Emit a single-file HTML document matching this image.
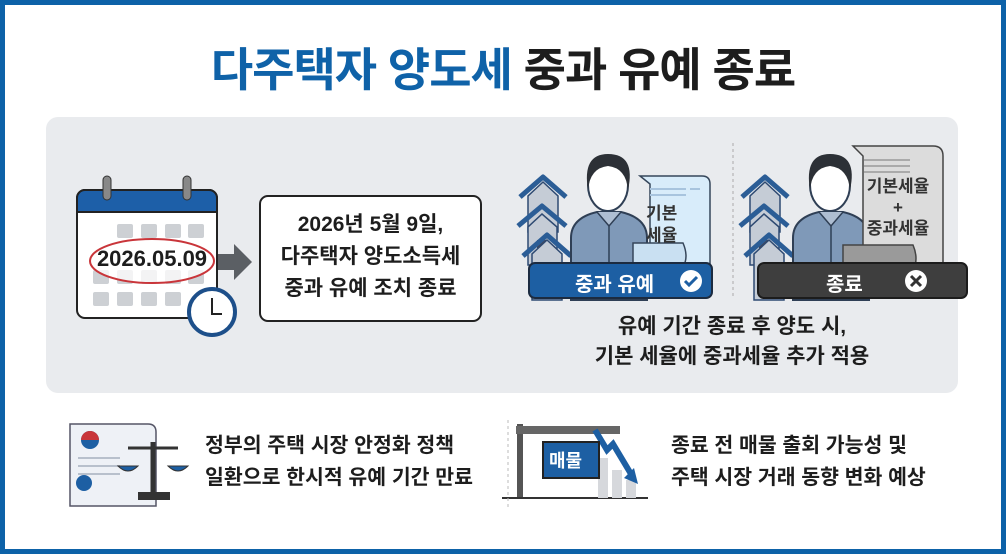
<!DOCTYPE html>
<html><head><meta charset="utf-8"><style>
body{margin:0;width:1006px;height:554px;overflow:hidden;background:#fff;font-family:"Liberation Sans","Noto Sans CJK KR",sans-serif}
.frame{position:absolute;left:0;top:0;width:996px;height:544px;border:5px solid #0d62a8;background:#fff}
.t{position:absolute;white-space:nowrap;font-weight:bold;color:#1d1d1d}
</style></head><body>
<div class="frame"></div>
<div class="t" style="left:0;width:1006px;text-align:center;top:38px;font-size:46px;letter-spacing:-1px;line-height:64px"><span style="color:#0f62a8">다주택자 양도세</span> 중과 유예 종료</div>
<div style="position:absolute;left:46px;top:117px;width:912px;height:276px;background:#e9ebee;border-radius:12px"></div>
<svg width="1006" height="554" style="position:absolute;left:0;top:0">
<defs>
<g id="houses">
<path d="M528 232 v-36 l15 -14 l15 14 v36z" fill="#c5ccd6" stroke="#2e4a72" stroke-width="1.5"/>
<path d="M520 197 l23 -20 l23 20" stroke="#2b5d96" stroke-width="5" fill="none" stroke-linejoin="round"/>
<path d="M528 265 v-38 l14 -13 l15 13 v38z" fill="#c5ccd6" stroke="#2e4a72" stroke-width="1.5"/>
<path d="M518 226 l24 -20 l24 20" stroke="#2b5d96" stroke-width="5" fill="none" stroke-linejoin="round"/>
<rect x="537" y="240" width="9" height="14" fill="#445"/>
<path d="M532 300 v-46 l15 -14 l15 14 v46z" fill="#c5ccd6" stroke="#2e4a72" stroke-width="1.5"/>
<path d="M523 256 l24 -21 l24 21" stroke="#2b5d96" stroke-width="5" fill="none" stroke-linejoin="round"/>
<rect x="542" y="270" width="10" height="20" fill="#445"/>
<path d="M571 300 v-62 q0 -20 26 -26 h24 q26 6 26 26 v62z" fill="#7f99b8" stroke="#2f3f55" stroke-width="2"/>
<path d="M597 212 l12 14 l12 -14" stroke="#2f3f55" stroke-width="1.5" fill="#aebed2"/>
<line x1="609" y1="226" x2="609" y2="300" stroke="#2f3f55" stroke-width="1.5"/>
<ellipse cx="608" cy="185" rx="20" ry="26" fill="#fff" stroke="#2f3f55" stroke-width="2"/>
<path d="M588 190 q-6 -36 20 -36 q28 0 20 36 q-2 -22 -20 -24 q-18 2 -20 24z" fill="#2c3036"/>
</g>
</defs>
<!-- calendar -->
<rect x="77" y="190" width="140" height="128" rx="8" fill="#fff" stroke="#222" stroke-width="2"/>
<path d="M77 198 a8 8 0 0 1 8 -8 h124 a8 8 0 0 1 8 8 v14 h-140z" fill="#1d5fa8" stroke="#222" stroke-width="2"/>
<rect x="103" y="176" width="8" height="24" rx="4" fill="#888" stroke="#333"/>
<rect x="183" y="176" width="8" height="24" rx="4" fill="#888" stroke="#333"/>
<g fill="#cdd0d4">
<rect x="117" y="224" width="16" height="14" rx="2"/><rect x="141" y="224" width="16" height="14" rx="2"/><rect x="165" y="224" width="16" height="14" rx="2"/><rect x="188" y="224" width="16" height="14" rx="2"/>
<rect x="93" y="270" width="16" height="14" rx="2"/><rect x="117" y="270" width="16" height="14" rx="2"/><rect x="141" y="270" width="16" height="14" rx="2"/><rect x="165" y="270" width="16" height="14" rx="2"/><rect x="188" y="270" width="16" height="14" rx="2"/>
<rect x="93" y="292" width="16" height="14" rx="2"/><rect x="117" y="292" width="16" height="14" rx="2"/><rect x="141" y="292" width="16" height="14" rx="2"/><rect x="165" y="292" width="16" height="14" rx="2"/>
</g>
<ellipse cx="152" cy="261" rx="62" ry="22" fill="#fff" fill-opacity="0.75" stroke="#c9353a" stroke-width="2"/>
<circle cx="212" cy="312" r="23" fill="#fff" stroke="#1d4f8a" stroke-width="4"/>
<path d="M212 298 v16 h10" stroke="#222" stroke-width="2" fill="none"/>
<path d="M218 254 h16 v-10 l18 18 l-18 18 v-10 h-16z" fill="#5b5f64"/>
<rect x="260" y="196" width="221" height="125" rx="8" fill="#fff" stroke="#222" stroke-width="2"/>
<line x1="733" y1="143" x2="733" y2="298" stroke="#aaa" stroke-dasharray="3,3"/>
<use href="#houses"/>
<path d="M640 176 h62 q8 0 8 8 v96 h-60 v-96z" fill="#d8ecfa" stroke="#36465a" stroke-width="1.5"/>
<g stroke="#a8c4de" stroke-width="2"><line x1="650" y1="189" x2="686" y2="189"/><line x1="650" y1="195" x2="686" y2="195"/><line x1="690" y1="189" x2="700" y2="189"/></g>
<path d="M633 243 h50 q6 14 0 24 h-50z" fill="#c9e0f2" stroke="#36465a" stroke-width="1.5"/>
<rect x="529" y="263" width="183" height="35" rx="6" fill="#1d5fa3" stroke="#1c2b40" stroke-width="2"/>
<circle cx="691" cy="281" r="11" fill="#fff"/><path d="M685 281 l4 4 l8 -8" stroke="#1d5fa3" stroke-width="3" fill="none"/>
<use href="#houses" transform="translate(222,0)"/>
<path d="M853 146 h80 q10 0 10 10 v132 h-80 v-132z" fill="#dcdcdc" stroke="#444" stroke-width="1.5"/>
<g stroke="#aaa" stroke-width="2"><line x1="864" y1="160" x2="910" y2="160"/><line x1="864" y1="166" x2="910" y2="166"/><line x1="864" y1="172" x2="910" y2="172"/></g>
<path d="M843 245 h70 q6 14 0 26 h-70z" fill="#9a9a9a" stroke="#444" stroke-width="1.5"/>
<rect x="758" y="263" width="209" height="35" rx="6" fill="#3e3e3e" stroke="#1c1c1c" stroke-width="2"/>
<circle cx="916" cy="281" r="11" fill="#fff"/><path d="M911 276 l10 10 m0 -10 l-10 10" stroke="#333" stroke-width="3"/>
<!-- bottom icons -->
<path d="M70 424 h78 q8 0 8 8 v74 h-86z" fill="#eef1f6" stroke="#556" stroke-width="1.5"/>
<g stroke="#b8c0cc" stroke-width="2"><line x1="78" y1="458" x2="120" y2="458"/><line x1="78" y1="466" x2="120" y2="466"/><line x1="78" y1="474" x2="120" y2="474"/></g>
<circle cx="90" cy="440" r="9" fill="#1d5fa3"/><path d="M81 440 a9 9 0 0 1 18 0z" fill="#c9353a"/>
<circle cx="84" cy="483" r="8" fill="#1d5fa3"/>
<line x1="153" y1="442" x2="153" y2="492" stroke="#333" stroke-width="5"/>
<line x1="128" y1="448" x2="178" y2="448" stroke="#333" stroke-width="3"/>
<path d="M118 466 q10 10 20 0z M168 466 q10 10 20 0z" fill="#1d5fa3" stroke="#333"/>
<rect x="138" y="492" width="32" height="8" fill="#333"/>
<line x1="520" y1="424" x2="520" y2="498" stroke="#555" stroke-width="6"/>
<rect x="516" y="426" width="104" height="8" fill="#666"/>
<line x1="502" y1="498" x2="648" y2="498" stroke="#333" stroke-width="2"/>
<g fill="#d6d8dc"><rect x="612" y="470" width="10" height="28"/><rect x="598" y="458" width="10" height="40"/><rect x="626" y="480" width="10" height="18"/></g>
<path d="M595 430 l12 20 l6 -6 l18 30" stroke="#1d5fa3" stroke-width="6" fill="none"/>
<path d="M624 478 l14 6 l-4 -16z" fill="#1d5fa3"/>
<rect x="543" y="442" width="56" height="36" fill="#1d5fa3" stroke="#222" stroke-width="2"/>
<line x1="508" y1="420" x2="508" y2="508" stroke="#bbb" stroke-dasharray="3,3"/>
</svg>
<div class="t" style="left:260px;width:221px;text-align:center;top:209px;font-size:21px;line-height:32px">2026년 5월 9일,<br>다주택자 양도소득세<br>중과 유예 조치 종료</div>
<div class="t" style="left:91px;width:122px;text-align:center;top:246px;font-size:22px">2026.05.09</div>
<div class="t" style="left:646px;top:203px;font-size:17px;line-height:22px;color:#333;text-align:center">기본<br>세율</div>
<div class="t" style="left:853px;top:176px;width:90px;text-align:center;font-size:17px;line-height:21px;color:#333">기본세율<br>+<br>중과세율</div>
<div class="t" style="left:575px;top:268px;font-size:20px;color:#fff">중과 유예</div>
<div class="t" style="left:826px;top:268px;font-size:20px;color:#fff">종료</div>
<div class="t" style="left:540px;width:384px;text-align:center;top:312px;font-size:21px;line-height:30px">유예 기간 종료 후 양도 시,<br>기본 세율에 중과세율 추가 적용</div>
<div class="t" style="left:205px;top:430px;font-size:20.5px;line-height:32px">정부의 주택 시장 안정화 정책<br>일환으로 한시적 유예 기간 만료</div>
<div class="t" style="left:549px;top:447px;font-size:18px;color:#fff">매물</div>
<div class="t" style="left:671px;top:430px;font-size:20.5px;line-height:32px">종료 전 매물 출회 가능성 및<br>주택 시장 거래 동향 변화 예상</div>
</body></html>
